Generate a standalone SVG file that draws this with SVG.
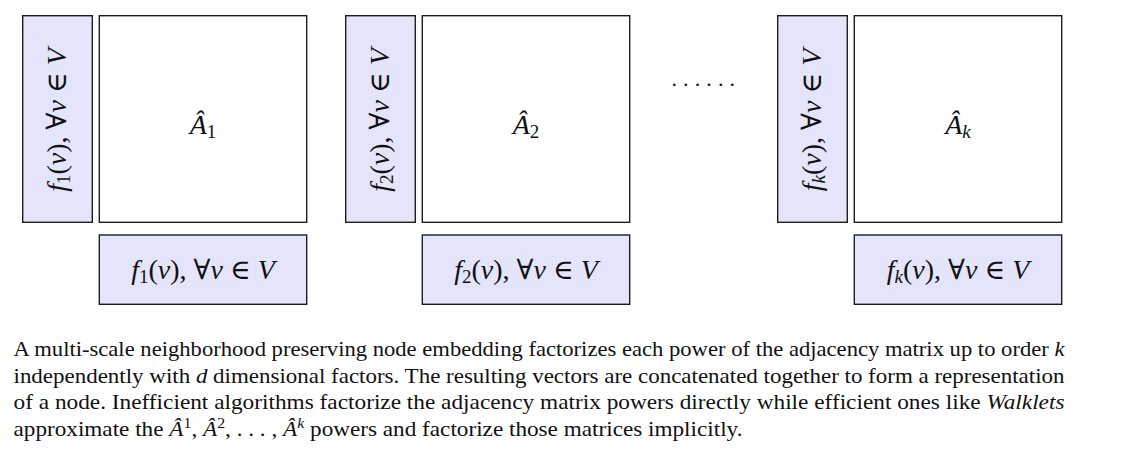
<svg xmlns="http://www.w3.org/2000/svg" width="1132" height="457" viewBox="0 0 1132 457">
<style>
.bar{fill:#e4e4fa;stroke:#1e1e1e;stroke-width:1.4}
.mat{fill:#ffffff;stroke:#1e1e1e;stroke-width:1.4}
.m{font-family:"Liberation Serif","DejaVu Serif",serif;font-size:28px;fill:#111}
.i{font-style:italic}
.sub{font-size:19px}
.cap{font-family:"Liberation Serif","DejaVu Serif",serif;font-size:22px;fill:#111}
.sup{font-size:15px}
</style>
<rect width="1132" height="457" fill="#ffffff"/>

<g id="group1">
  <g id="f1-left">
    <rect class="bar" x="22.7" y="15.7" width="69.6" height="206.6"/>
    <text class="m" transform="translate(66,120) rotate(-90)" text-anchor="middle"><tspan class="i">f</tspan><tspan class="sub" dy="4">1</tspan><tspan dy="-4">(</tspan><tspan class="i">v</tspan>), ∀<tspan class="i">v</tspan> ∈ <tspan class="i">V</tspan></text>
  </g>
  <g id="A1">
    <rect class="mat" x="99.3" y="15.7" width="207.4" height="206.6"/>
    <text class="m" x="203" y="134" text-anchor="middle"><tspan class="i">Â</tspan><tspan class="sub" dy="4">1</tspan></text>
  </g>
  <g id="f1-bottom">
    <rect class="bar" x="99.3" y="235" width="207.4" height="69.3"/>
    <text class="m" x="203" y="279" text-anchor="middle"><tspan class="i">f</tspan><tspan class="sub" dy="4">1</tspan><tspan dy="-4">(</tspan><tspan class="i">v</tspan>), ∀<tspan class="i">v</tspan> ∈ <tspan class="i">V</tspan></text>
  </g>
</g>

<g id="group2">
  <g id="f2-left">
    <rect class="bar" x="345.7" y="15.7" width="69.6" height="206.6"/>
    <text class="m" transform="translate(389,120) rotate(-90)" text-anchor="middle"><tspan class="i">f</tspan><tspan class="sub" dy="4">2</tspan><tspan dy="-4">(</tspan><tspan class="i">v</tspan>), ∀<tspan class="i">v</tspan> ∈ <tspan class="i">V</tspan></text>
  </g>
  <g id="A2">
    <rect class="mat" x="422.3" y="15.7" width="207.4" height="206.6"/>
    <text class="m" x="526" y="134" text-anchor="middle"><tspan class="i">Â</tspan><tspan class="sub" dy="4">2</tspan></text>
  </g>
  <g id="f2-bottom">
    <rect class="bar" x="422.3" y="235" width="207.4" height="69.3"/>
    <text class="m" x="526" y="279" text-anchor="middle"><tspan class="i">f</tspan><tspan class="sub" dy="4">2</tspan><tspan dy="-4">(</tspan><tspan class="i">v</tspan>), ∀<tspan class="i">v</tspan> ∈ <tspan class="i">V</tspan></text>
  </g>
</g>

<g id="ellipsis">
  <text class="m" x="671.5" y="86" style="font-size:22px;letter-spacing:6.1px">......</text>
</g>

<g id="groupk">
  <g id="fk-left">
    <rect class="bar" x="777.7" y="15.7" width="69.6" height="206.6"/>
    <text class="m" transform="translate(821,120) rotate(-90)" text-anchor="middle"><tspan class="i">f</tspan><tspan class="sub i" dy="4">k</tspan><tspan dy="-4">(</tspan><tspan class="i">v</tspan>), ∀<tspan class="i">v</tspan> ∈ <tspan class="i">V</tspan></text>
  </g>
  <g id="Ak">
    <rect class="mat" x="854.3" y="15.7" width="207.4" height="206.6"/>
    <text class="m" x="958" y="134" text-anchor="middle"><tspan class="i">Â</tspan><tspan class="sub i" dy="4">k</tspan></text>
  </g>
  <g id="fk-bottom">
    <rect class="bar" x="854.3" y="235" width="207.4" height="69.3"/>
    <text class="m" x="958" y="279" text-anchor="middle"><tspan class="i">f</tspan><tspan class="sub i" dy="4">k</tspan><tspan dy="-4">(</tspan><tspan class="i">v</tspan>), ∀<tspan class="i">v</tspan> ∈ <tspan class="i">V</tspan></text>
  </g>
</g>

<g id="connectors"></g>

<g id="caption">
  <text class="cap" x="13.5" y="356" textLength="1051" lengthAdjust="spacingAndGlyphs">A multi-scale neighborhood preserving node embedding factorizes each power of the adjacency matrix up to order <tspan class="i">k</tspan></text>
  <text class="cap" x="13.5" y="382.5" textLength="1051" lengthAdjust="spacingAndGlyphs">independently with <tspan class="i">d</tspan> dimensional factors. The resulting vectors are concatenated together to form a representation</text>
  <text class="cap" x="13.5" y="409" textLength="1051" lengthAdjust="spacingAndGlyphs">of a node.  Inefficient algorithms factorize the adjacency matrix powers directly while efficient ones like <tspan class="i">Walklets</tspan></text>
  <text class="cap" x="13.5" y="435.5" textLength="729" lengthAdjust="spacingAndGlyphs">approximate the <tspan class="i">Â</tspan><tspan class="sup" dy="-8">1</tspan><tspan dy="8">, </tspan><tspan class="i">Â</tspan><tspan class="sup" dy="-8">2</tspan><tspan dy="8">, . . . , </tspan><tspan class="i">Â</tspan><tspan class="i sup" dy="-8">k</tspan><tspan dy="8"> powers and factorize those matrices implicitly.</tspan></text>
</g>
</svg>
